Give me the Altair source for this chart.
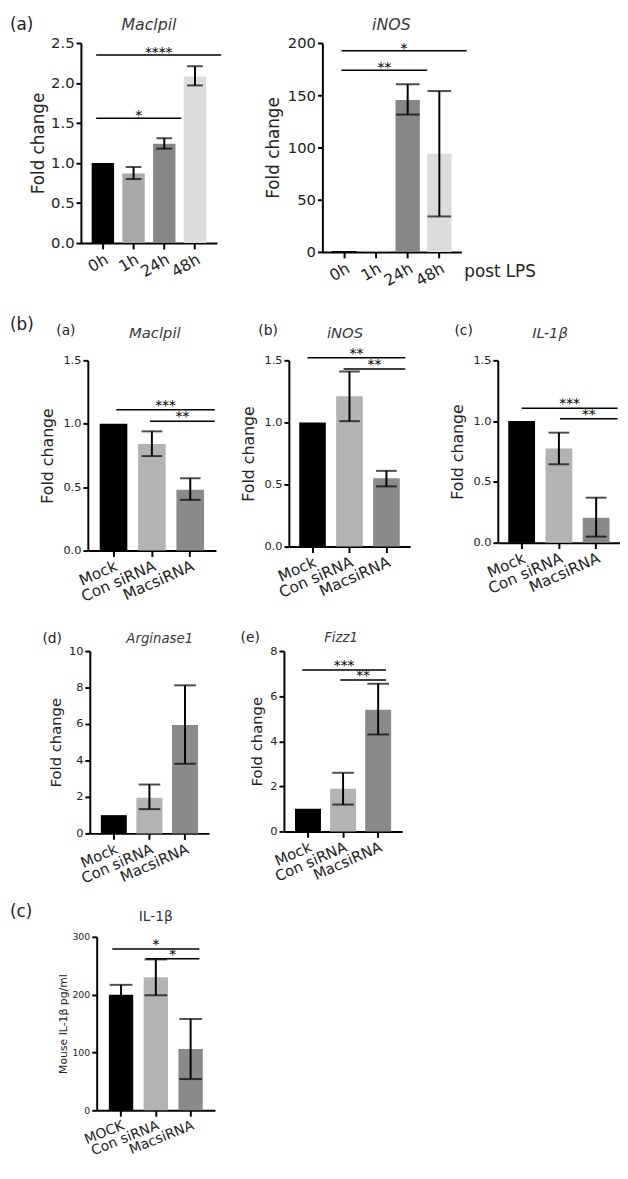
import altair as alt
import pandas as pd

FONT = "DejaVu Sans"
INK = "#222222"
GENE_INK = "#3a3a3a"

# ---------------- data ----------------
time_cats = ["0h", "1h", "24h", "48h"]
time_colors = ["#000000", "#a8a8a8", "#868686", "#dcdcdc"]

maclpil_lps_mean = [1.00, 0.87, 1.24, 2.08]
maclpil_lps_low = [None, 0.80, 1.18, 1.97]
maclpil_lps_high = [None, 0.95, 1.31, 2.21]
maclpil_lps_sig = [("0h", "24h", 1.56, "*"), ("0h", "48h", 2.35, "****")]

inos_lps_mean = [1.0, 1.0, 145.5, 94.0]
inos_lps_low = [None, None, 131.5, 34.0]
inos_lps_high = [None, None, 160.5, 154.0]
inos_lps_sig = [("0h", "24h", 174.0, "**"), ("0h", "48h", 192.5, "*")]

si_cats = ["Mock", "Con siRNA", "MacsiRNA"]
si_colors = ["#000000", "#b3b3b3", "#8a8a8a"]

maclpil_si_mean = [1.0, 0.84, 0.48]
maclpil_si_low = [None, 0.745, 0.40]
maclpil_si_high = [None, 0.94, 0.57]
maclpil_si_sig = [("Mock", "MacsiRNA", 1.11, "***"), ("Con siRNA", "MacsiRNA", 1.02, "**")]

inos_si_mean = [1.0, 1.21, 0.55]
inos_si_low = [None, 1.01, 0.485]
inos_si_high = [None, 1.41, 0.61]
inos_si_sig = [("Mock", "MacsiRNA", 1.52, "**"), ("Con siRNA", "MacsiRNA", 1.43, "**")]

il1b_si_mean = [1.0, 0.775, 0.205]
il1b_si_low = [None, 0.645, 0.05]
il1b_si_high = [None, 0.905, 0.37]
il1b_si_sig = [("Mock", "MacsiRNA", 1.105, "***"), ("Con siRNA", "MacsiRNA", 1.02, "**")]

arg_si_mean = [1.0, 1.96, 5.95]
arg_si_low = [None, 1.33, 3.82]
arg_si_high = [None, 2.68, 8.12]
arg_si_sig = []

fizz_si_mean = [1.0, 1.89, 5.4]
fizz_si_low = [None, 1.19, 4.3]
fizz_si_high = [None, 2.6, 6.55]
fizz_si_sig = [("Mock", "MacsiRNA", 7.16, "***"), ("Con siRNA", "MacsiRNA", 6.72, "**")]

elisa_cats = ["MOCK", "Con siRNA", "MacsiRNA"]
elisa_mean = [200.0, 230.0, 106.0]
elisa_low = [184.0, 199.0, 54.0]
elisa_high = [217.0, 261.0, 158.0]
elisa_sig = [("MOCK", "MacsiRNA", 279.0, "*"), ("Con siRNA", "MacsiRNA", 262.0, "*")]

one = pd.DataFrame({"k": [0]})


def panel(cats, colors, mean, low, high, sig, sig_band, *, ydom, yticks, yfmt, w, h,
          pin, pout, ytitle, ylab_fs, ytitle_fs, ytitle_pad, xlab_fs, xangle, cap,
          star_fs, star_dy, texts, left, right, top, bottom):
    df = pd.DataFrame({"cat": cats, "mean": mean, "low": low, "high": high, "color": colors})
    xs = alt.Scale(domain=cats, paddingInner=pin, paddingOuter=pout)
    ys = alt.Scale(domain=ydom, nice=False, zero=True)
    xaxis = alt.Axis(title=None, labelAngle=xangle, labelFontSize=xlab_fs, labelFont=FONT,
                     labelColor=INK, labelPadding=2, tickSize=6, tickWidth=2, tickColor="black",
                     domainWidth=2, domainColor="black", labelOverlap=False,
                     labelAlign="right", labelBaseline="top", grid=False)
    yaxis = alt.Axis(title=ytitle, values=yticks, format=yfmt, labelFontSize=ylab_fs,
                     labelFont=FONT, labelColor=INK, titleFont=FONT, titleFontSize=ytitle_fs,
                     titleFontWeight="normal", titleColor=INK, titlePadding=ytitle_pad,
                     tickSize=5, tickWidth=2, tickColor="black", domainWidth=2,
                     domainColor="black", labelPadding=2, grid=False, labelFlush=False,
                     labelOverlap=False)

    def X(field, **kw):
        return alt.X(field, scale=xs, axis=xaxis, **kw)

    def Y(field):
        return alt.Y(field, scale=ys, axis=yaxis)

    base = alt.Chart(df)
    layers = [
        base.mark_bar().encode(x=X("cat:N"), y=Y("mean:Q"),
                               color=alt.Color("color:N", scale=None))
    ]
    eb = base.transform_filter("isValid(datum.low)")
    layers.append(eb.mark_rule(color="black", strokeWidth=2).encode(
        x=X("cat:N"), y=Y("low:Q"), y2="high:Q"))
    for fld in ["low", "high"]:
        layers.append(eb.mark_tick(color="black", thickness=2, size=cap).encode(
            x=X("cat:N"), y=Y(f"{fld}:Q")))
    n = len(cats)
    step = w / (n - pin + 2 * pout)
    bw = step * (1 - pin)
    ratio = 1.0 / (1.0 - pin)
    for (a, b, yv, stars), (b1, b2) in zip(sig, sig_band):
        sd = pd.DataFrame({"a": [a], "b": [b], "y": [yv], "t": [stars]})
        layers.append(alt.Chart(sd).mark_rule(color="black", strokeWidth=1.5,
                                              x2Offset=(b2 - 1.0) * bw).encode(
            x=X("a:N", bandPosition=b1),
            x2=alt.X2("b:N", bandPosition=1),
            y=Y("y:Q")))
        ia, ib = cats.index(a), cats.index(b)
        bt = ((ib - ia) * ratio + b1 + b2) / 2.0
        layers.append(alt.Chart(sd).mark_text(font=FONT, fontSize=star_fs, baseline="alphabetic",
                                              align="center", dy=star_dy, dx=bt * bw,
                                              color="black").encode(
            x=X("a:N", bandPosition=0), y=Y("y:Q"), text="t:N"))
    for t in texts:
        layers.append(alt.Chart(one).mark_text(
            text=t["text"], font=FONT, fontSize=t["fs"], fontStyle=t.get("style", "normal"),
            align=t.get("align", "left"), baseline=t.get("baseline", "middle"),
            color=t.get("color", INK)).encode(x=alt.value(t["x"]), y=alt.value(t["y"])))
    # invisible layout frame
    layers.append(alt.Chart(one).mark_rule(strokeOpacity=0, strokeWidth=0.01).encode(
        x=alt.value(-left), x2=alt.value(right), y=alt.value(-top), y2=alt.value(bottom)))
    return alt.layer(*layers).properties(width=w, height=h)


A1 = panel(time_cats, time_colors, maclpil_lps_mean, maclpil_lps_low, maclpil_lps_high,
           maclpil_lps_sig, [(0.2, 1.26), (0.2, 1.67)],
           ydom=[0, 2.5], yticks=[0, 0.5, 1.0, 1.5, 2.0, 2.5], yfmt=".1f", w=138, h=203,
           pin=0.27, pout=0.35, ytitle="Fold change", ylab_fs=15, ytitle_fs=17, ytitle_pad=3,
           xlab_fs=16, xangle=-30, cap=16, star_fs=14, star_dy=2,
           texts=[dict(text="(a)", x=-72, y=-18, fs=17),
                  dict(text="Maclpil", x=69, y=-18, fs=16, align="center", style="italic", color=GENE_INK)],
           left=73, right=150, top=27, bottom=274)

A2 = panel(time_cats, time_colors, inos_lps_mean, inos_lps_low, inos_lps_high,
           inos_lps_sig, [(0.38, 1.3), (0.38, 1.62)],
           ydom=[0, 200], yticks=[0, 50, 100, 150, 200], yfmt="d", w=141, h=212,
           pin=0.23, pout=0.31, ytitle="Fold change", ylab_fs=15, ytitle_fs=17, ytitle_pad=5,
           xlab_fs=16, xangle=-30, cap=24, star_fs=14, star_dy=2,
           texts=[dict(text="iNOS", x=70, y=-18, fs=16, align="center", style="italic", color=GENE_INK),
                  dict(text="post LPS", x=144, y=232, fs=17)],
           left=95, right=225, top=27, bottom=274)

row2_common = dict(ydom=[0, 1.5], yticks=[0, 0.5, 1.0, 1.5], yfmt=".1f", ytitle="Fold change",
                   ylab_fs=11.5, ytitle_fs=16, ytitle_pad=8, xlab_fs=15.5, xangle=-24, cap=21,
                   star_fs=14, star_dy=0, top=48, bottom=271)

Ba = panel(si_cats, si_colors, maclpil_si_mean, maclpil_si_low, maclpil_si_high,
           maclpil_si_sig, [(0.6, 1.39), (0.43, 1.39)], w=130, h=193, pin=0.28, pout=0.31,
           texts=[dict(text="(b)", x=-79, y=-36, fs=17),
                  dict(text="(a)", x=-32, y=-30, fs=14),
                  dict(text="Maclpil", x=68, y=-28, fs=15, align="center", style="italic", color=GENE_INK)],
           left=80, right=135, **row2_common)

Bb = panel(si_cats, si_colors, inos_si_mean, inos_si_low, inos_si_high,
           inos_si_sig, [(0.31, 1.21), (0.28, 1.21)], w=123, h=189, pin=0.28, pout=0.28,
           texts=[dict(text="(b)", x=-31, y=-30, fs=14),
                  dict(text="iNOS", x=57, y=-28, fs=15, align="center", style="italic", color=GENE_INK)],
           left=69, right=128, **row2_common)

Bc = panel(si_cats, si_colors, il1b_si_mean, il1b_si_low, il1b_si_high,
           il1b_si_sig, [(0.5, 1.3), (0.54, 1.3)], w=124, h=185, pin=0.28, pout=0.28,
           texts=[dict(text="(c)", x=-44, y=-30, fs=14),
                  dict(text="IL-1β", x=53, y=-28, fs=15, align="center", style="italic", color=GENE_INK)],
           left=84, right=123, **row2_common)

row3_common = dict(yfmt="d", ytitle="Fold change", ylab_fs=11.5, ytitle_fs=15, ytitle_pad=5,
                   xlab_fs=15, xangle=-24, cap=22, star_fs=14, star_dy=0, top=24, bottom=253)

Bd = panel(si_cats, si_colors, arg_si_mean, arg_si_low, arg_si_high,
           arg_si_sig, [], ydom=[0, 10], yticks=[0, 2, 4, 6, 8, 10], w=121, h=185,
           pin=0.27, pout=0.31,
           texts=[dict(text="(d)", x=-48, y=-12, fs=14),
                  dict(text="Arginase1", x=71, y=-12, fs=13.5, align="center", style="italic", color=GENE_INK)],
           left=82, right=126, **row3_common)

Be = panel(si_cats, si_colors, fizz_si_mean, fizz_si_low, fizz_si_high,
           fizz_si_sig, [(0.28, 0.8), (0.39, 0.8)], ydom=[0, 8], yticks=[0, 2, 4, 6, 8],
           w=120, h=183, pin=0.26, pout=0.315,
           texts=[dict(text="(e)", x=-44, y=-13, fs=14),
                  dict(text="Fizz1", x=58, y=-13, fs=13.5, align="center", style="italic", color=GENE_INK)],
           left=71, right=125, **row3_common)

C = panel(elisa_cats, si_colors, elisa_mean, elisa_low, elisa_high,
          elisa_sig, [(0.14, 0.86), (0.1, 0.86)], ydom=[0, 300], yticks=[0, 100, 200, 300],
          yfmt="d", w=120, h=176, pin=0.3, pout=0.35, ytitle="Mouse IL-1β  pg/ml",
          ylab_fs=9.5, ytitle_fs=11, ytitle_pad=4, xlab_fs=14, xangle=-22, cap=23,
          star_fs=14, star_dy=0,
          texts=[dict(text="(c)", x=-88, y=-25, fs=17),
                 dict(text="IL-1β", x=60, y=-20, fs=14, align="center", color="#333333")],
          left=89, right=125, top=37, bottom=216)

spacer = alt.Chart(one).mark_rule(strokeOpacity=0).encode(
    x=alt.value(0), x2=alt.value(1), y=alt.value(0)).properties(width=1, height=1)

row1 = alt.hconcat(spacer, A1, A2, spacing=0)
row2 = alt.hconcat(spacer, Ba, Bb, Bc, spacing=0)
row3 = alt.hconcat(spacer, Bd, Be, spacing=0)
row4 = alt.hconcat(spacer, C, spacing=0)

chart = alt.vconcat(row1, row2, row3, row4, spacing=0).properties(
    padding=0, background="white").configure_view(stroke=None)

chart.save("out.html", embed_options={"renderer": "svg", "actions": False})
